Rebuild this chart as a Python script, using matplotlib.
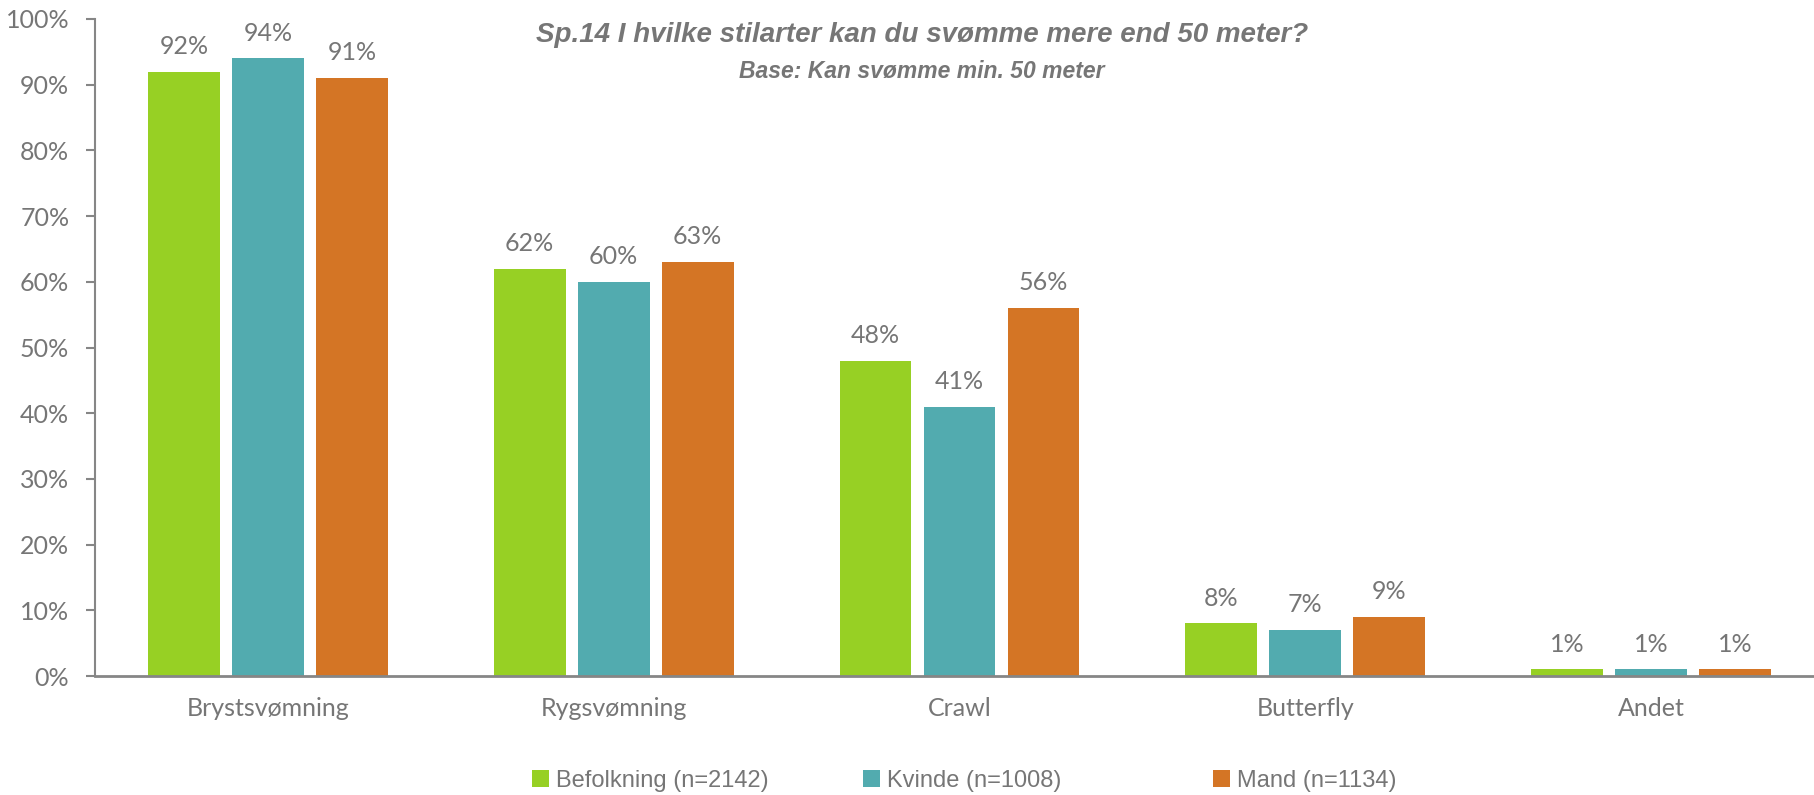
import matplotlib
matplotlib.use("Agg")
import matplotlib.pyplot as plt
import numpy as np

categories = ["Brystsvømning", "Rygsvømning", "Crawl", "Butterfly", "Andet"]
befolkning = [92, 62, 48, 8, 1]
kvinde = [94, 60, 41, 7, 1]
mand = [91, 63, 56, 9, 1]
series_labels = ["Befolkning (n=2142)", "Kvinde (n=1008)", "Mand (n=1134)"]
colors = ["#97D024", "#52ABAF", "#D47525"]

title = "Sp.14 I hvilke stilarter kan du svømme mere end 50 meter?"
subtitle = "Base: Kan svømme min. 50 meter"

text_col = "#767676"
axis_col = "#868686"
body_font = ["Lato", "DejaVu Sans"]
narrow_font = ["Liberation Sans", "DejaVu Sans"]

fig = plt.figure(figsize=(18.14, 7.95), dpi=100)
ax = fig.add_axes([95 / 1814, 1 - 676 / 795, 1729 / 1814, 657 / 795])

x = np.arange(len(categories))
width = 0.208
step = 0.243
handles = []
for i, (vals, lab, col) in enumerate(zip([befolkning, kvinde, mand], series_labels, colors)):
    bars = ax.bar(x + (i - 1) * step, vals, width, color=col, label=lab, zorder=2)
    handles.append(bars)
    for b, v in zip(bars, vals):
        ax.annotate(f"{v}%", (b.get_x() + b.get_width() / 2, v), xytext=(0, 10),
                    textcoords="offset points", ha="center", va="bottom",
                    fontsize=18, color=text_col, family=body_font)

ax.set_xlim(-0.5, 4.5)
ax.set_ylim(0, 100)
ax.set_yticks(range(0, 101, 10))
ax.set_yticklabels([f"{t}%" for t in range(0, 101, 10)])
ax.set_xticks(x)
ax.set_xticklabels(categories)

for s in ["top", "right"]:
    ax.spines[s].set_visible(False)
ax.spines["left"].set_color(axis_col)
ax.spines["bottom"].set_color(axis_col)
ax.spines["left"].set_linewidth(1.5)
ax.spines["bottom"].set_linewidth(2)
ax.spines["left"].set_zorder(3)

ax.tick_params(axis="y", length=6.5, width=1.5, color=axis_col, pad=12,
               labelsize=18, labelcolor=text_col)
ax.tick_params(axis="x", length=0, pad=15, labelsize=18, labelcolor=text_col)
for lbl in ax.get_xticklabels() + ax.get_yticklabels():
    lbl.set_family(body_font)

fig.text(922 / 1814, 1 - 35 / 795, title, ha="center", va="center", fontsize=20,
         fontweight="bold", fontstyle="italic", color=text_col, family=narrow_font)
fig.text(922 / 1814, 1 - 71 / 795, subtitle, ha="center", va="center", fontsize=16.5,
         fontweight="bold", fontstyle="italic", color=text_col, family=narrow_font)

# legend entries placed one by one, like the spread-out Excel legend
legend_x = [532, 863, 1213]
for h, lab, lx in zip(handles, series_labels, legend_x):
    leg = fig.legend([h], [lab], loc="center left", bbox_to_anchor=(lx / 1814, 1 - 781 / 795),
                     frameon=False, handlelength=0.7, handleheight=0.7, handletextpad=0.3,
                     borderpad=0, borderaxespad=0, prop={"family": narrow_font, "size": 17})
    for t in leg.get_texts():
        t.set_color(text_col)

fig.savefig("out.png", dpi=100)
